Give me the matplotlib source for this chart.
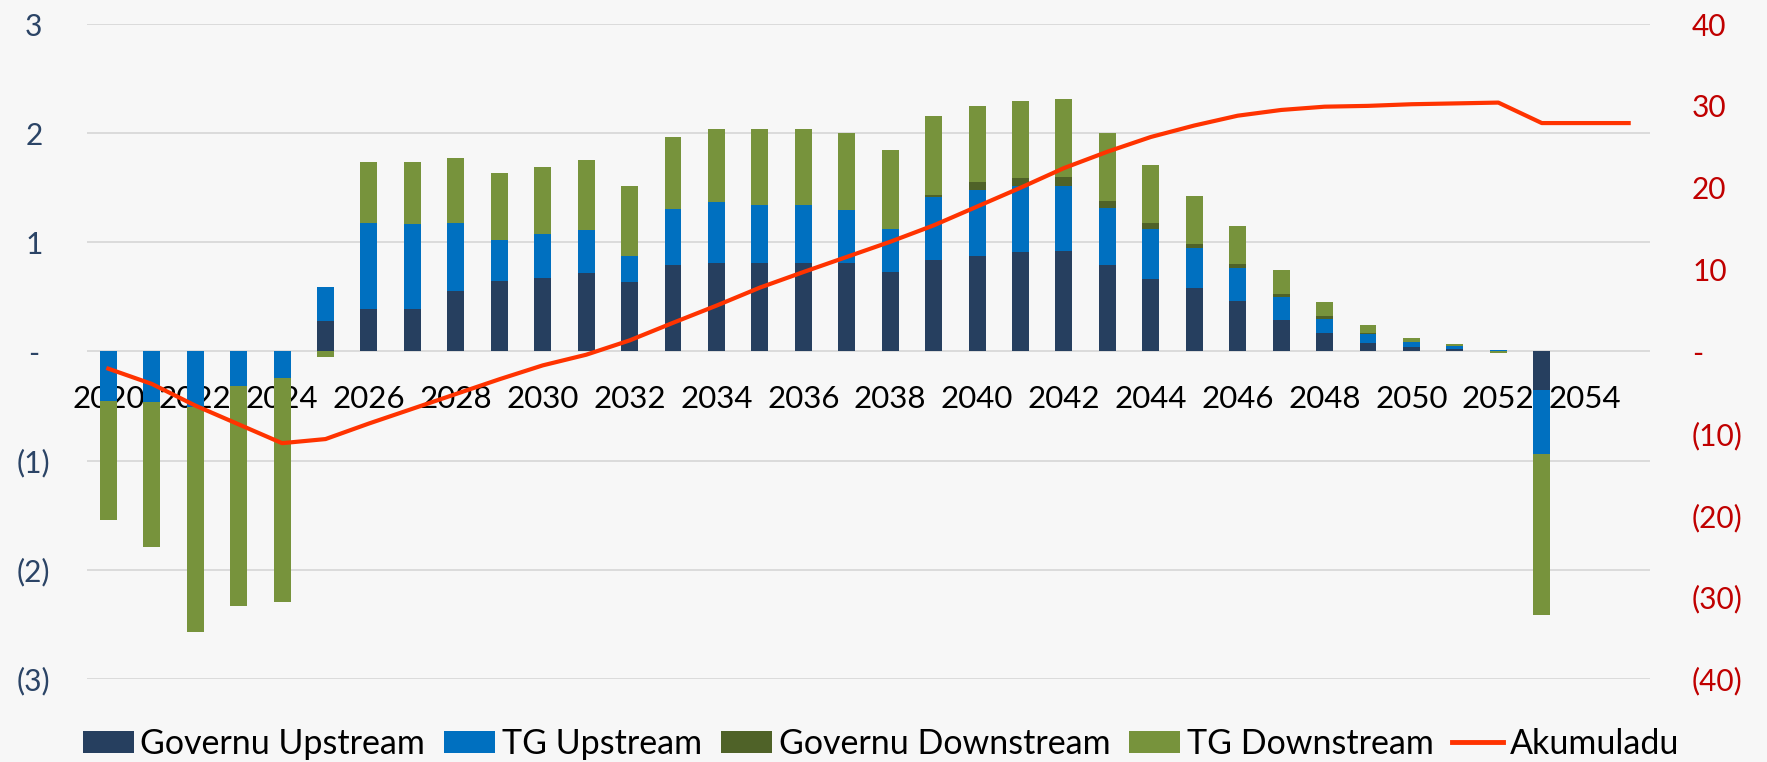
import numpy as np
import matplotlib
matplotlib.use('Agg')
import matplotlib.pyplot as plt
from matplotlib.patches import Patch
from matplotlib.lines import Line2D

plt.rcParams['font.family'] = ['Lato', 'DejaVu Sans']

years = list(range(2020, 2056))
gov_up = [0, 0, 0, 0, 0, 0.275, 0.388, 0.388, 0.557, 0.648, 0.673, 0.719, 0.636, 0.789,
          0.813, 0.813, 0.813, 0.813, 0.731, 0.838, 0.872, 0.908, 0.92, 0.789, 0.661,
          0.581, 0.462, 0.284, 0.168, 0.076, 0.037, 0.024, 0.0, -0.352, 0, 0]
tg_up = [-0.456, -0.465, -0.505, -0.312, -0.245, 0.315, 0.789, 0.777, 0.62, 0.376, 0.4,
         0.397, 0.236, 0.517, 0.554, 0.53, 0.53, 0.484, 0.388, 0.575, 0.611, 0.609, 0.597,
         0.529, 0.458, 0.364, 0.306, 0.214, 0.129, 0.086, 0.049, 0.025, 0.01, -0.587, 0, 0]
gov_down = [0, 0, 0, 0, 0, 0, 0, 0, 0, 0, 0, 0, 0, 0, 0, 0, 0, 0, 0, 0.024, 0.071, 0.073,
            0.085, 0.061, 0.061, 0.043, 0.036, 0.025, 0.024, 0.009, 0, 0, 0, 0, 0, 0]
tg_down = [-1.09, -1.33, -2.065, -2.02, -2.05, -0.05, 0.563, 0.575, 0.6, 0.612, 0.621,
           0.636, 0.645, 0.66, 0.667, 0.691, 0.691, 0.7, 0.728, 0.716, 0.694, 0.704, 0.707,
           0.618, 0.526, 0.437, 0.349, 0.22, 0.129, 0.068, 0.033, 0.024, -0.012, -1.474, 0, 0]
akumuladu = [-2.1, -3.96, -6.6, -8.9, -11.2, -10.7, -8.8, -7.0, -5.2, -3.4, -1.7, -0.4,
             1.35, 3.5, 5.6, 7.8, 9.7, 11.55, 13.4, 15.4, 17.7, 20.0, 22.4, 24.4, 26.2,
             27.6, 28.8, 29.5, 29.9, 30.0, 30.2, 30.3, 30.4, 27.9, 27.9, 27.9]

series = [('Governu Upstream', gov_up, '#263F5F'),
          ('TG Upstream', tg_up, '#0070C0'),
          ('Governu Downstream', gov_down, '#4F6228'),
          ('TG Downstream', tg_down, '#77933C')]

left_ticks = [3, 2, 1, 0, -1, -2, -3]
left_labels = ['3', '2', '1', '-', '(1)', '(2)', '(3)']
right_ticks = [40, 30, 20, 10, 0, -10, -20, -30, -40]
right_labels = ['40', '30', '20', '10', '-', '(10)', '(20)', '(30)', '(40)']

fig = plt.figure(figsize=(17.67, 7.62), dpi=100)
fig.patch.set_facecolor('#F7F7F7')
ax = fig.add_axes([0.049, 0.109, 0.885, 0.8595])
ax.set_facecolor('none')

x = np.arange(len(years))
pos = np.zeros(len(years))
neg = np.zeros(len(years))
for name, vals, col in series:
    v = np.array(vals, dtype=float)
    bottom = np.where(v >= 0, pos, neg)
    ax.bar(x, v, 0.39, bottom=bottom, color=col, zorder=2)
    pos = pos + np.where(v >= 0, v, 0)
    neg = neg + np.where(v < 0, v, 0)

# move the x axis up to zero first, it resets the ticks
ax.spines['bottom'].set_position(('data', 0))
for s in ax.spines.values():
    s.set_visible(False)

ax.set_xlim(-0.5, len(years) - 0.5)
ax.set_ylim(-3, 3)
ax.set_yticks(left_ticks)
ax.set_yticklabels(left_labels, color='#2B4466', fontsize=21.5)
for lab in ax.get_yticklabels():
    lab.set_ha('center')
ax.tick_params(axis='y', length=0, pad=38)
ax.grid(axis='y', color='#D9D9D9', linewidth=1.3, zorder=0)
ax.set_axisbelow(True)

ax.set_xticks(x[::2])
ax.set_xticklabels([str(y) for y in years[::2]])
ax.tick_params(axis='x', length=0, pad=24, labelsize=22.5, labelcolor='black')

ax2 = ax.twinx()
ax2.plot(x, akumuladu, color='#FF3300', linewidth=3, zorder=3)
ax2.set_ylim(-40, 40)
ax2.set_yticks(right_ticks)
ax2.set_yticklabels(right_labels, color='#C00000', fontsize=21.5)
ax2.tick_params(axis='y', length=0, pad=30)
for s in ax2.spines.values():
    s.set_visible(False)

handles = [Patch(facecolor=c, label=n) for n, v, c in series]
handles.append(Line2D([0], [0], color='#FF3300', linewidth=3.5, label='Akumuladu'))
fig.legend(handles=handles, loc='center', bbox_to_anchor=(0.4986, 0.024), ncol=5,
           frameon=False, fontsize=24.5, handlelength=1.5, handleheight=0.6,
           handletextpad=0.2, columnspacing=0.55, borderaxespad=0)

plt.savefig('out.png', dpi=100, facecolor=fig.get_facecolor())
